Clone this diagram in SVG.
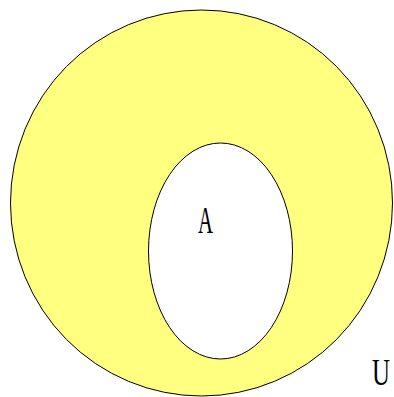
<svg xmlns="http://www.w3.org/2000/svg" width="394" height="397" viewBox="0 0 394 397">
<style>
.lbl{font-family:"Liberation Serif","Times New Roman",serif;font-size:37px;fill:#000}
.shape{stroke:#000;stroke-width:1}
</style>
<rect width="394" height="397" fill="#fff"/>
<g id="U">
<ellipse class="shape" cx="201.5" cy="203" rx="191" ry="193" fill="#ffff80"/>
<text class="lbl" x="372" y="385" textLength="18" lengthAdjust="spacingAndGlyphs">U</text>
</g>
<g id="A">
<ellipse class="shape" cx="220.5" cy="251" rx="72" ry="108" fill="#fff"/>
<text class="lbl" x="198" y="233" textLength="15" lengthAdjust="spacingAndGlyphs">A</text>
</g>
</svg>
